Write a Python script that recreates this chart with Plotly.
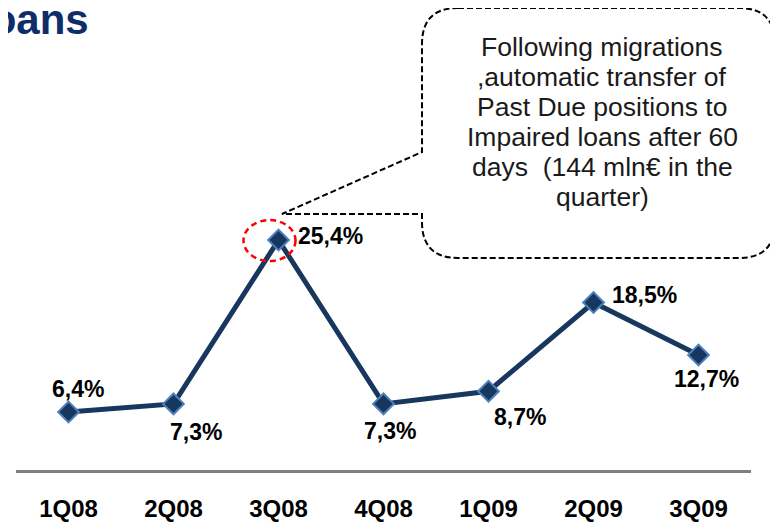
import plotly.graph_objects as go

# ---- data ----
quarters = ["1Q08", "2Q08", "3Q08", "4Q08", "1Q09", "2Q09", "3Q09"]
ratio_pct = [6.4, 7.3, 25.4, 7.3, 8.7, 18.5, 12.7]
value_labels = ["6,4%", "7,3%", "25,4%", "7,3%", "8,7%", "18,5%", "12,7%"]
title_text = "Loans"
callout_lines = [
    "Following migrations",
    ",automatic transfer of",
    "Past Due positions to",
    "Impaired loans after 60",
    "days  (144 mln€ in the",
    "quarter)",
]

# ---- layout geometry (page has an 8px body margin) ----
OFF = 8
W, H = 778 - OFF, 523 - OFF
ML, MR, MT, MB = 8, 27, 52, 53
PW, PH = W - ML - MR, H - MT - MB
Y_MAX = PH / 9.053

def px(xs):
    return (xs - OFF - ML) / PW

def py(ys):
    return (H - MB - (ys - OFF)) / PH

FONT = "Liberation Sans, Arial, sans-serif"
NAVY = "#17375E"

fig = go.Figure()
fig.add_trace(go.Scatter(
    x=quarters, y=ratio_pct, mode="lines+markers",
    line=dict(color=NAVY, width=5),
    marker=dict(symbol="diamond", size=16, color=NAVY,
                line=dict(color="#4F81BD", width=2)),
    hoverinfo="skip", showlegend=False,
))

# data labels (offsets in pixels)
label_shifts = [(9, 23), (22, -28), (52, 4), (6, -27), (31, -26), (51, 8), (8, -24)]
annotations = []
for q, v, t, (dx, dy) in zip(quarters, ratio_pct, value_labels, label_shifts):
    annotations.append(dict(
        x=q, y=v, xref="x", yref="y", text="<b>%s</b>" % t, showarrow=False,
        xshift=dx, yshift=dy, xanchor="center", yanchor="middle",
        font=dict(family=FONT, size=23, color="#000000"),
    ))

# title (partially cut at left edge, as in the reference)
annotations.append(dict(
    x=px(91), y=py(20), xref="paper", yref="paper", text="<b>%s</b>" % title_text,
    showarrow=False, xanchor="right", yanchor="middle",
    font=dict(family=FONT, size=42, color="#0F2D69"),
))

# callout text
for i, line in enumerate(callout_lines):
    annotations.append(dict(
        x=px(602), y=py(47 + 30 * i), xref="paper", yref="paper", text=line,
        showarrow=False, xanchor="center", yanchor="middle",
        font=dict(family=FONT, size=26.5, color="#1A1A1A"),
    ))

# callout shape (rounded rect with wedge), in screen pixels -> paper coordinates
L, R, T, B, r = 422, 775, 8, 258, 36
tipx, tipy, w_top = 282, 214, 152
pts = [
    ("M", [(L + r, T)]),
    ("L", [(R - r, T)]),
    ("Q", [(R, T), (R, T + r)]),
    ("L", [(R, B - r)]),
    ("Q", [(R, B), (R - r, B)]),
    ("L", [(L + r, B)]),
    ("Q", [(L, B), (L, B - r)]),
    ("L", [(L, tipy)]),
    ("L", [(tipx, tipy)]),
    ("L", [(L, w_top)]),
    ("L", [(L, T + r)]),
    ("Q", [(L, T), (L + r, T)]),
]
path = " ".join(cmd + " " + " ".join("%.5f,%.5f" % (px(a), py(b)) for a, b in p) for cmd, p in pts) + " Z"

shapes = [
    dict(type="path", xref="paper", yref="paper", path=path,
         line=dict(color="#000000", width=2, dash="6px,3px"), fillcolor="rgba(0,0,0,0)"),
    dict(type="circle", xref="x", yref="y", xsizemode="pixel", ysizemode="pixel",
         xanchor=quarters[2], yanchor=ratio_pct[2], x0=-35, x1=17, y0=-21, y1=20,
         line=dict(color="#FF0000", width=2.5, dash="6px,4px")),
]

fig.update_layout(
    width=W, height=H, margin=dict(l=ML, r=MR, t=MT, b=MB),
    paper_bgcolor="white", plot_bgcolor="white",
    annotations=annotations, shapes=shapes,
    xaxis=dict(type="category", range=[-0.5, 6.5], showgrid=False, zeroline=False,
               showline=True, linecolor="#808080", linewidth=2.5, automargin=False,
               ticks="", ticklabelstandoff=15,
               tickfont=dict(family=FONT, size=24, color="#000000"),
               tickvals=quarters, ticktext=["<b>%s</b>" % q for q in quarters]),
    yaxis=dict(range=[0, Y_MAX], visible=False, showgrid=False, zeroline=False,
               automargin=False),
)

fig.write_html("out.html")
